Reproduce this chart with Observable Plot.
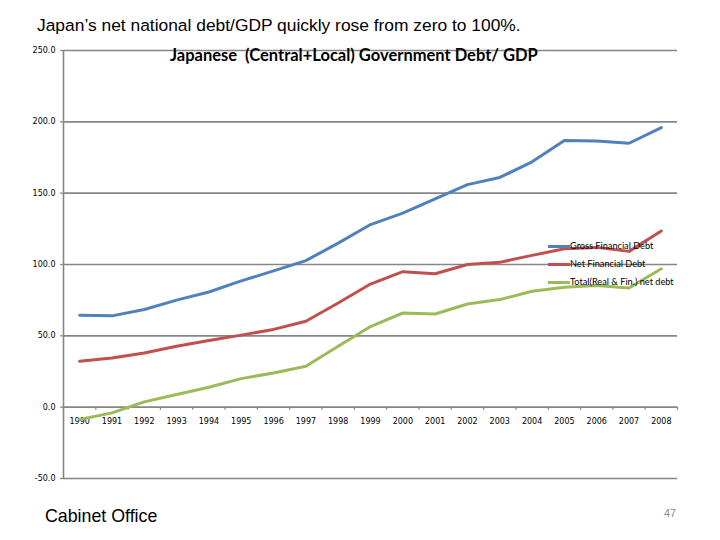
<!DOCTYPE html>
<html>
<head>
<meta charset="utf-8">
<script src="https://cdn.jsdelivr.net/npm/d3@7"></script>
<script src="https://cdn.jsdelivr.net/npm/@observablehq/plot@0.6"></script>
<style>
  html, body { margin: 0; padding: 0; background: #fff; }
  #wrap { position: relative; width: 720px; height: 540px; overflow: hidden; }
  #wrap svg { position: absolute; left: 0; top: 0; }
  .abs { position: absolute; white-space: nowrap; }
  #title { left: 37px; top: 15px; font: 17.4px "Liberation Sans", Arial, sans-serif; color: #000; }
  #ctitle { left: 170px; top: 45px; font: bold 16.5px Lato, "Open Sans", sans-serif; color: #000; }
  #caption { left: 45px; top: 506px; font: 17.8px "Liberation Sans", Arial, sans-serif; color: #000; }
  #page { left: 664px; top: 507px; font: 11px "Liberation Sans", Arial, sans-serif; color: #8a8a8a; }
  .leg { position: absolute; left: 548px; font: 9.2px Lato, "DejaVu Sans", sans-serif; color: #000; height: 12px; line-height: 12px; }
  .leg span.sw { display: inline-block; width: 22px; height: 3px; vertical-align: middle; }
</style>
</head>
<body>
<div id="wrap">
  <div id="chart"></div>
  <div class="abs" id="title">Japan’s net national debt/GDP quickly rose from zero to 100%.</div>
  <div class="abs" id="ctitle">Japanese &nbsp;(Central+Local) Government Debt/ GDP</div>
  <div class="abs" id="legend"></div>
  <div class="abs" id="caption">Cabinet Office</div>
  <div class="abs" id="page">47</div>
</div>
<script>
const years = [1990, 1991, 1992, 1993, 1994, 1995, 1996, 1997, 1998, 1999, 2000, 2001, 2002, 2003, 2004, 2005, 2006, 2007, 2008];
const gross = [64.4, 64.0, 68.5, 75.0, 80.7, 88.5, 95.5, 102.7, 115.0, 128.0, 136.0, 146.0, 156.0, 161.0, 172.0, 187.0, 186.5, 185.0, 196.0];
const net   = [32.2, 34.5, 38.0, 42.7, 46.7, 50.5, 54.5, 60.2, 73.0, 86.3, 95.0, 93.5, 100.0, 101.5, 106.4, 111.0, 112.0, 109.2, 123.5];
const total = [-8.6, -4.0, 3.7, 8.9, 14.0, 20.0, 24.0, 28.7, 42.7, 56.5, 66.0, 65.3, 72.3, 75.4, 81.2, 84.0, 85.2, 83.5, 97.0];
const seriesNames = ["Gross Financial Debt", "Net Financial Debt", "Total(Real & Fin.) net debt"];
const seriesColors = ["#4F81BD", "#C0504D", "#9BBB59"];
const yTicks = [-50, 0, 50, 100, 150, 200, 250];

const rows = [];
[gross, net, total].forEach((vals, i) => {
  years.forEach((yr, j) => rows.push({year: yr, value: vals[j], series: seriesNames[i]}));
});
const bandEdges = years.map(y => y - 0.5).concat([years[years.length - 1] + 0.5]);
const xMin = years[0] - 0.5, xMax = years[years.length - 1] + 0.5;

const chart = Plot.plot({
  width: 720,
  height: 540,
  marginTop: 50,
  marginBottom: 62,
  marginLeft: 63,
  marginRight: 43,
  style: {background: "transparent", fontFamily: "'DejaVu Sans', sans-serif"},
  x: {type: "linear", domain: [xMin, xMax], axis: null},
  y: {type: "linear", domain: [-50, 250], axis: null},
  color: {domain: seriesNames, range: seriesColors},
  marks: [
    Plot.ruleY(yTicks, {x1: xMin, x2: xMax, stroke: "#868686", strokeWidth: 1.6}),
    Plot.ruleY(yTicks, {x1: xMin, x2: xMin, insetLeft: -3, stroke: "#868686", strokeWidth: 1.2}),
    Plot.ruleX([xMin], {y1: -50, y2: 250, stroke: "#868686", strokeWidth: 1.6}),
    Plot.ruleX(bandEdges, {y1: 0, y2: -2.2, stroke: "#868686", strokeWidth: 1.2}),
    Plot.text(yTicks, {x: xMin, y: d => d, text: d => d.toFixed(1), textAnchor: "end", dx: -8, fontSize: 8, fill: "#000"}),
    Plot.text(years, {x: d => d, y: 0, text: d => String(d), dy: 14, fontSize: 8, fill: "#000"}),
    Plot.line(rows, {x: "year", y: "value", z: "series", stroke: "series", strokeWidth: 3, strokeLinejoin: "round", strokeLinecap: "round"})
  ]
});
document.getElementById("chart").appendChild(chart);

const legend = document.getElementById("legend");
const legTops = [239.5, 257.5, 275.5];
seriesNames.forEach((name, i) => {
  const d = document.createElement("div");
  d.className = "leg";
  d.style.top = legTops[i] + "px";
  d.innerHTML = `<span class="sw" style="background:${seriesColors[i]}"></span>${name.replace("&", "&amp;")}`;
  legend.appendChild(d);
});
</script>
</body>
</html>
